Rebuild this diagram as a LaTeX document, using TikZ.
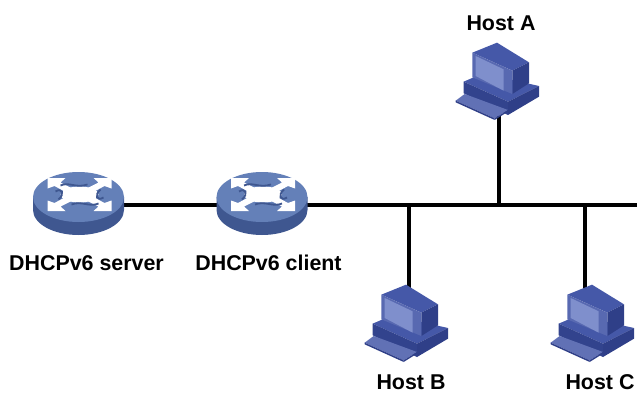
\documentclass[tikz,border=0pt]{standalone}
\usepackage{fontspec}
\setmainfont{Liberation Sans}
\definecolor{routertop}{HTML}{6480B8}
\definecolor{routerside}{HTML}{3F5790}
\definecolor{hostmid}{HTML}{4558A8}
\definecolor{hostdark}{HTML}{2F3F88}
\definecolor{hostlight}{HTML}{7F8FCC}
\tikzset{
    link/.style={line width=3.3pt,black},
    bus/.style={line width=4.3pt,black},
    tap/.style={line width=3.8pt,black},
    lab/.style={font=\fontsize{21.4}{24}\selectfont\bfseries,inner sep=0pt},
    swoosh/.style={routerside,line width=1.8pt},
    routericon/.pic={
        \fill[routerside](-45.5,0)--(-45.5,13)arc[start angle=180,end angle=0,x radius=45.5,y radius=25]--(45.5,0)--cycle;
        \fill[routertop](0,0)ellipse[x radius=45.5,y radius=25];
        \begin{scope}[shift={(1,-2.5)}]
            % corner arrows
            \foreach \sx/\sy in {1/1,-1/1,1/-1,-1/-1}{
                \fill[white,xscale=\sx,yscale=\sy](32,16.5)--(14,16.5)--(19,12)--(7,6)--(13,2)--(25,8.5)--(32,6)--cycle;
            }
            % middle
            \fill[white](0,0)ellipse[x radius=19,y radius=8];
            \draw[swoosh](-19,-9)..controls(-10,-13)and(-4,-6)..(8,-10);
            \draw[swoosh](-8,10)..controls(2,6)and(10,13)..(19,9);
            \draw[swoosh](-24,-3)..controls(-18,-7)and(-14,-1)..(-21,5);
            \draw[swoosh](24,3)..controls(18,7)and(14,1)..(21,-5);
        \end{scope}
    },
    hosticon/.pic={
        \begin{scope}[x=.3333pt,y=-.3333pt,shift={(-178,-258)}]
            % base
            \fill[hostmid](72,155)--(130,130)--(298,168)--(205,215)--cycle;
            \fill[hostdark!85!hostmid](72,155)--(205,215)--(205,255)--(72,190)--cycle;
            \fill[hostdark](205,215)--(298,168)--(298,200)--(205,255)--cycle;
            % monitor
            \fill[hostmid](98,68)--(172,38)--(268,97)--(218,122)--cycle;
            \fill[hostdark](218,122)--(268,97)--(268,160)--(218,192)--cycle;
            \fill[hostmid!90!white](98,68)--(218,122)--(218,192)--(98,142)--cycle;
            \fill[hostlight](108,78)--(192,118)--(192,182)--(108,138)--cycle;
            % keyboard
            \fill[hostmid!85!white](48,212)--(75,192)--(205,240)--(165,265)--cycle;
            \fill[hostdark](48,212)--(165,265)--(165,270)--(48,217)--cycle;
            \fill[hostdark](165,265)--(205,240)--(205,245)--(165,270)--cycle;
        \end{scope}
    },
}
\begin{document}
\begin{tikzpicture}[x=1pt,y=-1pt]
    \useasboundingbox(0,0)rectangle(637,393);
    \coordinate(server)at(78.5,205);
    \coordinate(client)at(262,205);
    \coordinate(busl)at(350,205);
    \coordinate(busr)at(637,205);
    \coordinate(tapa)at(499,205);
    \coordinate(tapb)at(409,205);
    \coordinate(tapc)at(585,205);
    \coordinate(hosta)at(499,116);
    \coordinate(hostb)at(409,295);
    \coordinate(hostc)at(585,295);
    \draw[link](server)--(client)--(busl);
    \draw[bus](busl)--(busr);
    \draw[tap](tapa)--(hosta);
    \draw[tap](tapb)--(hostb);
    \draw[tap](tapc)--(hostc);
    \pic at(78.5,197){routericon};
    \pic at(262,197){routericon};
    \pic at(499,116){hosticon};
    \pic at(408,358){hosticon};
    \pic at(594,358){hosticon};
    \node[lab](lserver)at(86.5,263){DHCPv6 server};
    \node[lab](lclient)at(268.5,263){DHCPv6 client};
    \node[lab](lhosta)at(501,23){Host A};
    \node[lab](lhostb)at(411,382.5){Host B};
    \node[lab](lhostc)at(600,382.5){Host C};
\end{tikzpicture}
\end{document}
